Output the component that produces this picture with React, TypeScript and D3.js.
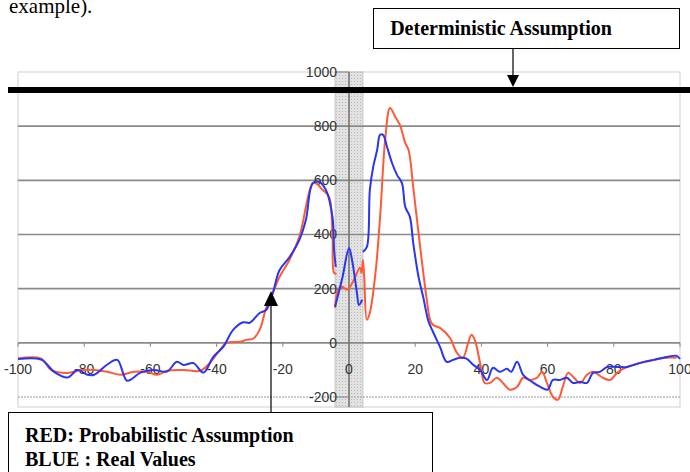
import React from "react";
import * as d3 from "d3";

// values, null = break in the line
const blueX = [-100, -93, -89, -85, -82, -79, -77, -73, -70, -67, -63, -59, -55, -52, -50, -47, -44, -41, -38, -35, -32, -30, -27, -25, -23, -21, -18, -15, -13, -11, -9, -7, -5, -4.5, -4, null,
  -4.2, -2, 0, 1, 2.4, 3, 4, null,
  4.2, 5.4, 6.3, 7.3, 8.5, 9.4, 10.3, 11.5, 13, 14.5, 16, 17, 18.4, 19.4, 21, 22.4, 24, 25.4, 27.5, 29.5, 31.5, 33.5, 35.5, 37.5, 39.6, 41.7, 43.5, 45.6, 47.7, 49, 50.8, 52.6, 55.3, 57.7, 60, 61.6, 63.7, 65.8, 67.7, 69.8, 71.9, 73.7, 75.8, 78, 81, 84, 88, 92, 96, 99, 100];
const blueY = [-60, -62, -108, -128, -100, -118, -118, -80, -63, -140, -110, -100, -106, -70, -82, -75, -110, -52, -15, 48, 76, 74, 110, 122, 185, 268, 316, 380, 455, 588, 594, 565, 465, 343, 280, null,
  133, 240, 350, 300, 185, 140, 159, null,
  336, 354, 565, 649, 712, 768, 768, 723, 664, 620, 590, 502, 465, 369, 244, 170, 80, 40, -15, -70, -63, -55, -58, -81, -100, -137, -92, -107, -96, -107, -70, -118, -144, -162, -173, -137, -137, -129, -148, -144, -148, -111, -107, -89, -89, -89, -74, -63, -52, -48, -60];

const redX = [-100, -93, -90, -85, -81, -77, -73, -69, -65, -61, -58, -55, -50, -45, -42, -39, -37, -33, -31, -29, -27, -25, -23, -21, -18, -15, -11, -10, -8, -6, -5, -4.5, -3.8, null,
  -4.2, -3.3, -2, -0.6, 1, 3.3, 3.8, 4.2, 4.6, 5.4, 6.3, 8, 9.4, 11, 12.4, 14, 15.4, 17, 18, 19.4, 21.5, 23.5, 24.5, 25.4, 27.5, 30.5, 32.6, 34.4, 36, 37, 38, 39.6, 41, 42.6, 44.7, 46.5, 48.6, 50.8, 52.6, 54.7, 56.8, 58.3, 59.8, 61.6, 63.1, 64.6, 66.2, 67.7, 69.8, 71.9, 73.7, 76.7, 78.9, 81, 84, 88, 92, 96, 99];
const redY = [-58, -58, -100, -111, -100, -100, -107, -118, -107, -107, -118, -103, -100, -103, -74, -26, 0, 4, 11, 15, 48, 130, 185, 243, 306, 391, 590, 590, 565, 539, 406, 258, 255, null,
  129, 196, 207, 196, 221, 277, 258, 306, 243, 85, 111, 258, 465, 760, 867, 834, 804, 738, 712, 576, 354, 159, 85, 66, 55, 18, -37, -55, 0, 30, 11, -74, -148, -148, -129, -148, -173, -162, -129, -137, -129, -107, -148, -199, -210, -162, -111, -125, -148, -118, -107, -129, -137, -111, -89, -74, -63, -55, -55];

const yTicks = [1000, 800, 600, 400, 200, 0, -200];
const xTicks = [-100, -80, -60, -40, -20, 0, 20, 40, 60, 80, 100];

const topLabel = "Deterministic Assumption";
const legendLines = ["RED: Probabilistic Assumption", "BLUE : Real Values"];

const x = d3.scaleLinear().domain([-100, 100]).range([18, 680]);
const y = d3.scaleLinear().domain([-200, 1000]).range([397, 72]);

function makePath(xs, ys) {
  const pts = xs.map((v, i) => [v, ys[i]]);
  const line = d3.line()
    .defined(d => d[0] !== null && d[1] !== null)
    .x(d => x(d[0]))
    .y(d => y(d[1]))
    .curve(d3.curveCatmullRom.alpha(0.5));
  return line(pts);
}

export default function App() {
  const serif = "'Liberation Serif', 'Times New Roman', serif";
  const sans = "'Liberation Sans', Arial, sans-serif";
  const plotBottom = 407;

  return (
    <svg width={690} height={472} style={{ position: "absolute", left: 0, top: 0, background: "white" }}>
      <defs>
        <pattern id="dots" width="3" height="3" patternUnits="userSpaceOnUse">
          <rect width="3" height="3" fill="#e2e2e2" />
          <rect width="1" height="1" fill="#b8b8b8" />
        </pattern>
      </defs>

      {/* text cut off at the top of the page, as in the scan */}
      <text x={9} y={13} fontFamily={serif} fontSize={21}>example).</text>

      {/* plot frame */}
      <rect x={x(-100)} y={y(1000)} width={x(100) - x(-100)} height={plotBottom - y(1000)} fill="none" stroke="#d0d0d0" />

      {/* shaded band */}
      <rect x={x(-4.2)} y={y(1000)} width={x(4.2) - x(-4.2)} height={plotBottom - y(1000)} fill="url(#dots)" stroke="#c4c4c4" />

      {/* grid */}
      {yTicks.filter(t => t !== 1000).map(t => (
        <line key={t} x1={x(-100)} x2={x(100)} y1={y(t)} y2={y(t)}
          stroke={t === -200 ? "#bbb" : "#8a8a8a"} strokeWidth={t === -200 ? 1.5 : 1.6}
          strokeDasharray={t === -200 ? "2,1" : undefined} />
      ))}

      {/* y axis */}
      <line x1={x(0)} x2={x(0)} y1={y(1000)} y2={plotBottom} stroke="#555" strokeWidth={1.2} />
      {yTicks.map(t => (
        <g key={t}>
          <line x1={x(0) - 13} x2={x(0)} y1={y(t)} y2={y(t)} stroke="#888" />
          <text x={337} y={y(t)} dy="0.35em" textAnchor="end" fontFamily={sans} fontSize={14} fill="#333">{t}</text>
        </g>
      ))}

      {/* x axis ticks + labels */}
      {xTicks.map(t => (
        <g key={t}>
          <line x1={x(t)} x2={x(t)} y1={y(0)} y2={y(0) + 4} stroke="#888" />
          <text x={x(t)} y={y(0) + 26} dy="0.35em" textAnchor="middle" fontFamily={sans} fontSize={14} fill="#333">{t}</text>
        </g>
      ))}

      {/* series */}
      <path d={makePath(redX, redY)} fill="none" stroke="#ff5a36" strokeWidth={2} />
      <path d={makePath(blueX, blueY)} fill="none" stroke="#2a35f0" strokeWidth={2} />

      {/* deterministic line */}
      <rect x={8} y={87} width={682} height={6} fill="#000" />

      {/* top annotation */}
      <rect x={373.5} y={8.5} width={306} height={40} fill="white" stroke="#000" />
      <text x={501} y={35} textAnchor="middle" fontFamily={serif} fontWeight="bold" fontSize={20}>{topLabel}</text>
      <line x1={513} x2={513} y1={49} y2={76} stroke="#000" strokeWidth={1.2} />
      <path d="M507,75 L519,75 L513,87 Z" fill="#000" />

      {/* bottom annotation */}
      <line x1={271} x2={271} y1={305} y2={412} stroke="#000" strokeWidth={1.2} />
      <path d="M264,306 L278,306 L271,291 Z" fill="#000" />
      <rect x={8.5} y={412.5} width={424} height={80} fill="white" stroke="#000" />
      {legendLines.map((l, i) => (
        <text key={l} x={25} y={442 + i * 24} fontFamily={serif} fontWeight="bold" fontSize={20}>{l}</text>
      ))}
    </svg>
  );
}
